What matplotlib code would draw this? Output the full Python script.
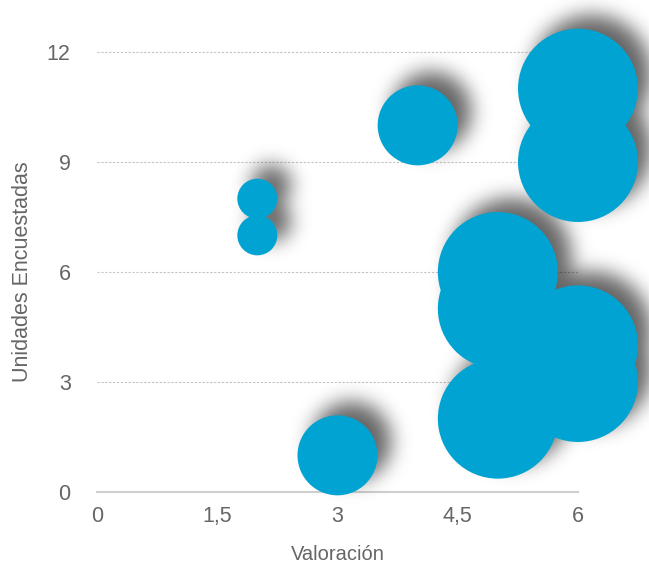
import numpy as np
import matplotlib
matplotlib.use("Agg")
import matplotlib.pyplot as plt

# Datos de la encuesta
valoracion = [2, 2, 3, 4, 5, 5, 5, 6, 6, 6, 6]
unidades = [8, 7, 1, 10, 6, 5, 2, 11, 9, 4, 3]
tamano = [1, 1, 4, 4, 9, 9, 9, 9, 9, 9, 9]

xticks = [0, 1.5, 3, 4.5, 6]
xtick_labels = ["0", "1,5", "3", "4,5", "6"]
yticks = [0, 3, 6, 9, 12]
ytick_labels = ["0", "3", "6", "9", "12"]

AZUL = "#00a3d1"
GRIS_TEXTO = "#666666"

plt.rcParams["font.family"] = ["Liberation Sans", "DejaVu Sans"]


def desenfocar(a, sigma):
    r = int(3 * sigma)
    k = np.exp(-0.5 * (np.arange(-r, r + 1) / sigma) ** 2)
    k /= k.sum()
    a = np.apply_along_axis(lambda v: np.convolve(v, k, mode="same"), 0, a)
    a = np.apply_along_axis(lambda v: np.convolve(v, k, mode="same"), 1, a)
    return a


# Filtro de sombra: desenfoque + desplazamiento hacia arriba a la derecha
def sombra(im, dpi):
    pad = 35
    alfa = np.pad(im[:, :, 3], pad)
    alfa = desenfocar(alfa, 7)
    alfa = np.roll(alfa, (-7, 7), axis=(0, 1))
    out = np.zeros(alfa.shape + (4,))
    out[:, :, 3] = np.clip(alfa * 0.78, 0, 1)
    return out, -pad, -pad


fig = plt.figure(figsize=(6.49, 5.63), dpi=100)
ax = fig.add_axes([97 / 649, 71 / 563, 481 / 649, 440 / 563])

s = [t * 829 for t in tamano]

sh = ax.scatter(valoracion, unidades, s=s, color="black", linewidths=0,
                zorder=2, clip_on=False)
sh.set_agg_filter(sombra)
sh.set_rasterized(True)

ax.scatter(valoracion, unidades, s=s, color=AZUL, linewidths=0,
           zorder=3, clip_on=False)

ax.set_xlim(0, 6)
ax.set_ylim(0, 12)
ax.set_xticks(xticks)
ax.set_xticklabels(xtick_labels)
ax.set_yticks(yticks)
ax.set_yticklabels(ytick_labels)

for y in yticks[1:]:
    ax.axhline(y, color="#c4c4c4", lw=0.8, ls=(0, (2, 1.5)), zorder=1, clip_on=False)

for lado in ["top", "right", "left"]:
    ax.spines[lado].set_visible(False)
ax.spines["bottom"].set_color("#cfcfcf")
ax.spines["bottom"].set_linewidth(1.5)
ax.spines["bottom"].set_zorder(1)

ax.tick_params(axis="both", length=0, labelsize=15.5, labelcolor=GRIS_TEXTO)
ax.tick_params(axis="x", pad=10)
ax.tick_params(axis="y", pad=19)

ax.set_xlabel("Valoración", fontsize=14.5, color=GRIS_TEXTO, labelpad=13)
ax.set_ylabel("Unidades Encuestadas", fontsize=15.5, color=GRIS_TEXTO, labelpad=10)

fig.savefig("out.png", dpi=100)
